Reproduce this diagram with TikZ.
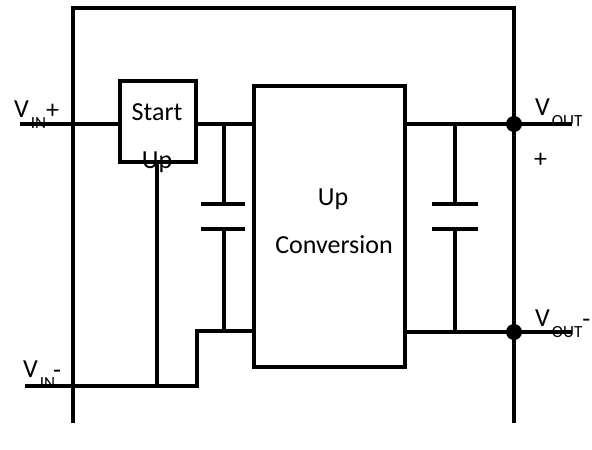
\documentclass[tikz,border=0pt]{standalone}
\usepackage{fontspec}
\setmainfont{Carlito}
\usetikzlibrary{positioning}
\usetikzlibrary{shadows}
\newcommand{\volt}[2]{V\kern2pt\raisebox{-11pt}{\fontsize{17}{17}\selectfont #1}#2}
\tikzset{
	wire/.style={black, line width=3.8pt},
	blockbox/.style={draw=black, line width=3.8pt, fill=white, inner sep=0pt, drop shadow={shadow xshift=1pt, shadow yshift=-2pt, opacity=0.2}},
	plate/.style={black, line width=3.8pt},
	dot/.style={circle, fill=black, inner sep=0pt, minimum size=16pt},
	label/.style={inner sep=0pt, anchor=base west, font=\fontsize{26}{26}\selectfont},
	word/.style={inner sep=0pt, anchor=base, font=\fontsize{26}{26}\selectfont}
}
\begin{document}
\begin{tikzpicture}[x=1pt, y=-1pt]
	\useasboundingbox (0, 0) rectangle (592, 450);
	% outer frame
	\coordinate (frameBL) at (73, 423);
	\coordinate (frameTL) at (73, 8);
	\coordinate (frameTR) at (514, 8);
	\coordinate (frameBR) at (514, 423);
	\draw[wire] (frameBL)--(frameTL)--(frameTR)--(frameBR);

	% free ends of the terminals
	\coordinate (inP) at (20, 124);
	\coordinate (inN) at (25, 386);
	\coordinate (outP) at (572, 124);
	\coordinate (outN) at (572, 332);
	\coordinate (stepA) at (197, 386);
	\coordinate (stepB) at (197, 331);
	\coordinate (startEnd) at (157, 386);

	% wires under the blocks
	\draw[wire] (inP)--(120, 124);
	\draw[wire] (196, 124)--(254, 124);
	\draw[wire] (inN)--(stepA)--(stepB)--(254, 331);
	\draw[wire] (405, 124)--(outP);
	\draw[wire] (405, 332)--(outN);
	\draw[wire] (157, 162)--(startEnd);

	% blocks
	\node[blockbox, minimum width=76pt, minimum height=81pt] (startBox) at (158, 121.5) {};
	\node[blockbox, minimum width=151pt, minimum height=281pt] (convBox) at (329.5, 226.5) {};

	% capacitors
	\coordinate (capAtop) at (224, 124);
	\coordinate (capAup) at (224, 204);
	\coordinate (capAlow) at (224, 229);
	\coordinate (capAbot) at (224, 331);
	\draw[wire] (capAtop)--(capAup);
	\draw[wire] (capAlow)--(capAbot);
	\draw[plate] (201, 204)--(245, 204);
	\draw[plate] (201, 229)--(245, 229);

	\coordinate (capBtop) at (455, 124);
	\coordinate (capBup) at (455, 204);
	\coordinate (capBlow) at (455, 229);
	\coordinate (capBbot) at (455, 332);
	\draw[wire] (capBtop)--(capBup);
	\draw[wire] (capBlow)--(capBbot);
	\draw[plate] (432, 204)--(478, 204);
	\draw[plate] (432, 229)--(478, 229);

	% junctions
	\node[dot] (dotP) at (514, 124) {};
	\node[dot] (dotN) at (514, 332) {};

	% labels
	\node[label] (labInP) at (14, 117) {\volt{IN}{\raisebox{-1pt}{+}}};
	\node[label] (labInN) at (23, 377) {\volt{IN}{\kern-2pt\raisebox{-1pt}{-}}};
	\node[label] (labOutP) at (535, 115) {\volt{OUT}{}};
	\node[label] (labPlus) at (534, 167) {+};
	\node[label] (labOutN) at (535, 326) {\volt{OUT}{\raisebox{-1pt}{-}}};
	\node[word] (txtStart) at (157, 120) {Start};
	\node[word] (txtUp) at (157, 168) {Up};
	\node[word] (txtConvA) at (333, 205) {Up};
	\node[word] (txtConvB) at (334, 253) {Conversion};
\end{tikzpicture}
\end{document}
